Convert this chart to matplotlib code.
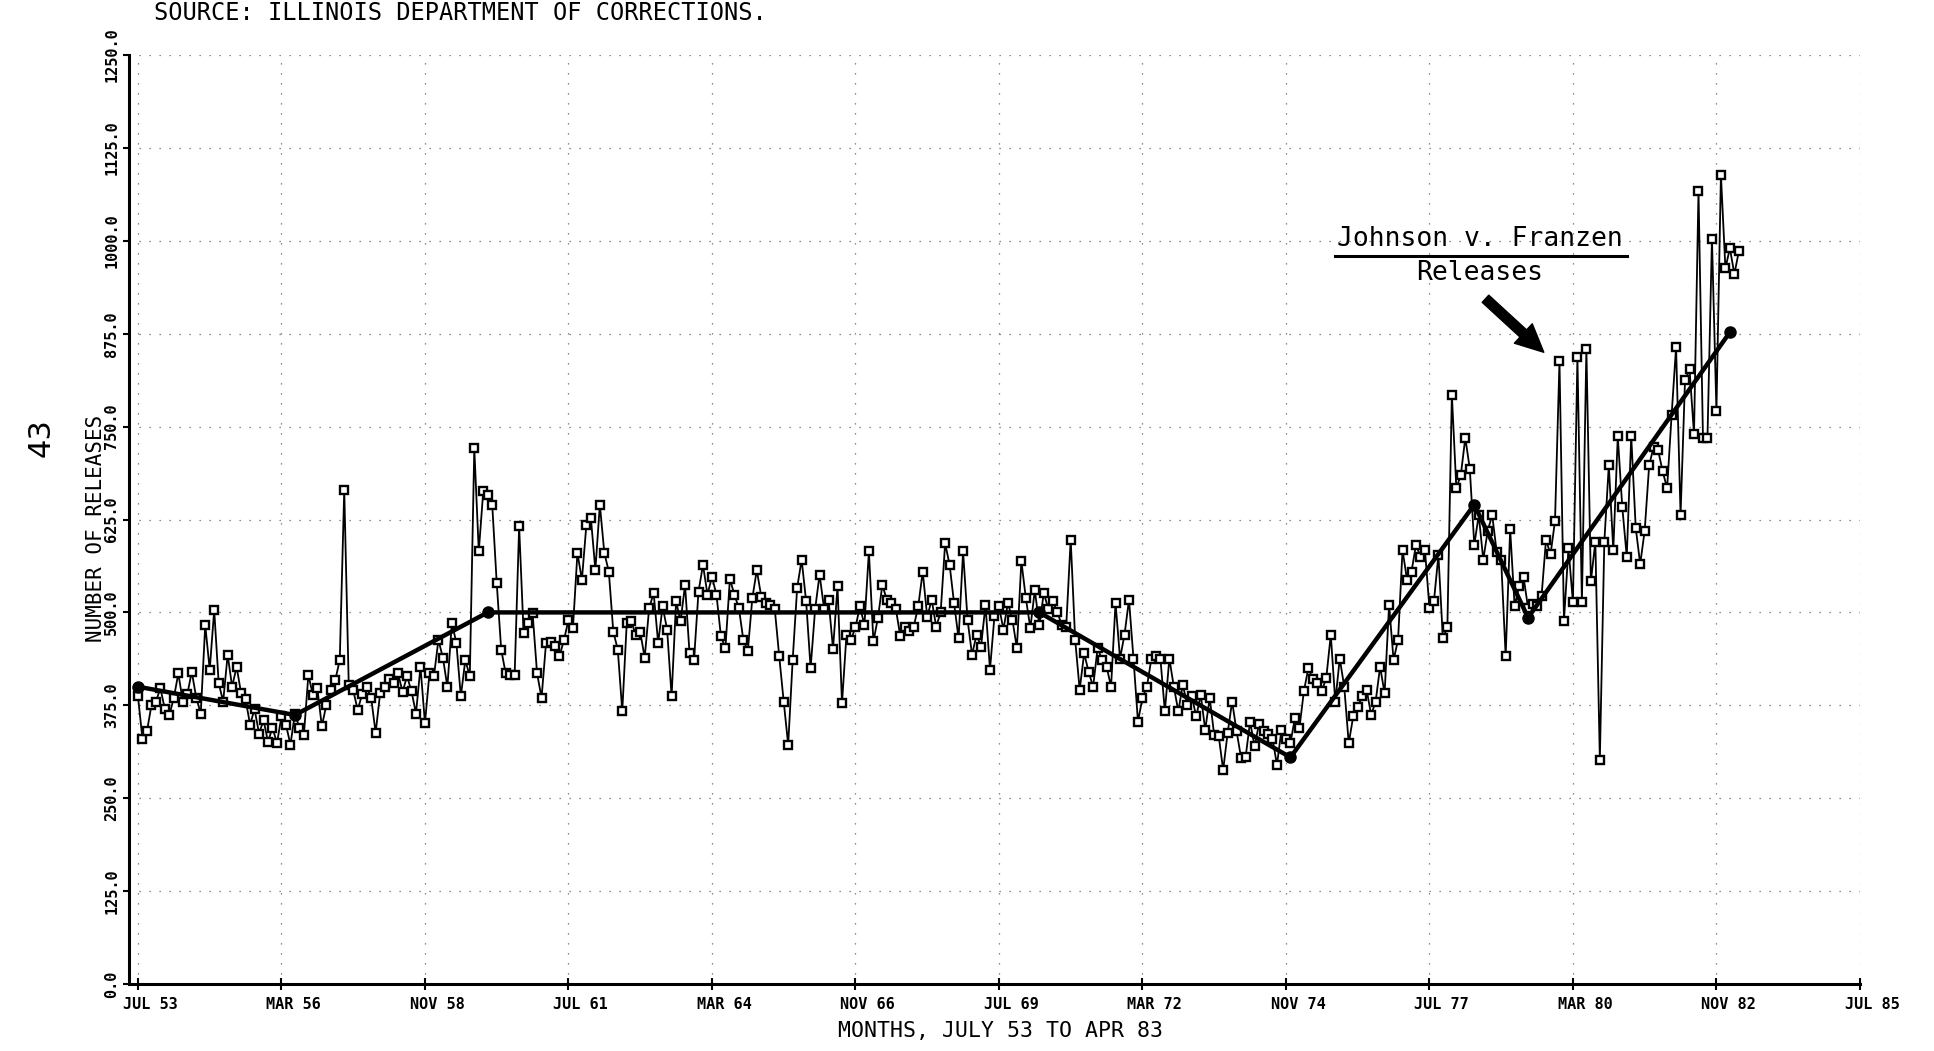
import matplotlib
matplotlib.use("Agg")
import matplotlib.pyplot as plt
import matplotlib.transforms as mtransforms
import numpy as np

# monthly releases, July 1953 .. April 1983
releases = [
    387, 330, 340, 375, 380, 398, 370, 362, 385, 418, 380, 390,
    420, 385, 364, 483, 423, 503, 405, 380, 443, 400, 427, 391,
    383, 349, 370, 337, 355, 326, 345, 324, 360, 349, 322, 364,
    345, 335, 416, 389, 398, 347, 375, 395, 409, 436, 665, 403,
    395, 369, 390, 400, 385, 338, 391, 400, 410, 405, 418, 393,
    414, 394, 364, 427, 351, 418, 414, 463, 439, 400, 486, 459,
    387, 436, 414, 721, 582, 663, 658, 645, 540, 450, 418, 416,
    416, 616, 472, 486, 499, 418, 385, 459, 460, 455, 441, 463,
    490, 479, 580, 544, 618, 627, 557, 645, 580, 555, 474, 450,
    367, 486, 488, 470, 474, 439, 506, 526, 459, 508, 477, 387,
    515, 488, 537, 445, 436, 528, 564, 524, 548, 524, 468, 452,
    545, 524, 506, 463, 448, 519, 557, 521, 512, 510, 505, 441,
    380, 322, 436, 533, 571, 515, 425, 504, 551, 505, 517, 451,
    535, 378, 470, 463, 480, 508, 483, 582, 461, 492, 537, 517,
    512, 505, 468, 481, 475, 481, 508, 555, 494, 517, 481, 500,
    593, 564, 512, 465, 582, 490, 443, 470, 454, 510, 423, 495,
    508, 477, 513, 490, 452, 569, 519, 479, 530, 483, 526, 505,
    515, 501, 483, 481, 598, 463, 396, 445, 420, 400, 452, 436,
    427, 400, 513, 438, 470, 517, 438, 353, 385, 400, 438, 441,
    438, 367, 438, 400, 367, 403, 375, 387, 360, 389, 342, 385,
    335, 334, 288, 338, 380, 340, 304, 305, 353, 320, 350, 340,
    337, 330, 295, 342, 330, 324, 358, 344, 394, 425, 410, 405,
    394, 412, 470, 380, 438, 400, 324, 360, 373, 387, 396, 362,
    380, 427, 391, 510, 436, 463, 584, 544, 555, 591, 575, 584,
    506, 515, 577, 465, 480, 793, 667, 685, 735, 693, 591, 631,
    571, 610, 631, 581, 570, 441, 612, 508, 536, 547, 506, 511,
    508, 522, 598, 578, 623, 838, 489, 586, 514, 843, 514, 855,
    542, 595, 302, 595, 698, 584, 737, 642, 575, 737, 614, 565,
    610, 698, 723, 718, 690, 667, 765, 857, 631, 813, 827, 740,
    1067, 734, 734, 1003, 771, 1089, 963, 990, 955, 986,
]

# piecewise trend line (month index from July 53, value)
trend_months = [0, 35, 78, 201, 257, 298, 310, 355]
trend_values = [400, 362, 500, 500, 305, 645, 493, 877]

tick_months = [0, 32, 64, 96, 128, 160, 192, 224, 256, 288, 320, 352, 384]
tick_labels = ["JUL 53", "MAR 56", "NOV 58", "JUL 61", "MAR 64", "NOV 66", "JUL 69",
               "MAR 72", "NOV 74", "JUL 77", "MAR 80", "NOV 82", "JUL 85"]
y_ticks = [0, 125, 250, 375, 500, 625, 750, 875, 1000, 1125, 1250]

mono = "DejaVu Sans Mono"

fig = plt.figure(figsize=(19.34, 10.51), dpi=100)
ax = fig.add_axes([0.0667, 0.0637, 0.895, 0.884])

months = np.arange(len(releases))
ax.plot(months, releases, color="black", lw=1.3, marker="s", ms=5.5, mfc="white",
        mec="black", mew=1.7, zorder=3)
ax.plot(trend_months, trend_values, color="black", lw=3.2, marker="o", ms=8, zorder=4)

ax.set_xlim(-2, 384)
ax.set_ylim(0, 1250)
ax.set_axisbelow(True)
ax.grid(True, color="0.4", lw=0.9, linestyle=(0, (1, 7)))

for s in ["top", "right"]:
    ax.spines[s].set_visible(False)
for s in ["left", "bottom"]:
    ax.spines[s].set_linewidth(2.2)

ax.set_xticks(tick_months)
ax.set_xticklabels(tick_labels, fontfamily=mono, fontsize=11, fontweight="bold")
ax.tick_params(axis="x", direction="inout", length=9, width=1.5, pad=5)
shift = mtransforms.ScaledTranslation(0.12, 0, fig.dpi_scale_trans)
for lab in ax.get_xticklabels():
    lab.set_transform(lab.get_transform() + shift)

ax.set_yticks(y_ticks)
ax.set_yticklabels([f"{v:.1f}" for v in y_ticks], rotation=90, va="center",
                   fontfamily=mono, fontsize=11, fontweight="bold")
ax.tick_params(axis="y", direction="out", length=4, width=1.5, pad=3)

ax.set_ylabel("NUMBER OF RELEASES", fontfamily=mono, fontsize=15)
ax.yaxis.set_label_coords(-0.013, 0.49)

fig.text(1001 / 1934, 1 - 1031 / 1051, "MONTHS, JULY 53 TO APR 83", ha="center",
         va="center", fontfamily=mono, fontsize=15.5)
fig.text(154 / 1934, 1 - 1 / 1051, "SOURCE: ILLINOIS DEPARTMENT OF CORRECTIONS.",
         ha="left", va="top", fontfamily=mono, fontsize=17)
fig.text(41 / 1934, 1 - 438 / 1051, "43", rotation=90, ha="center", va="center",
         fontsize=22)

# Johnson v. Franzen annotation
ax.text(299.3, 1003, "Johnson v. Franzen", ha="center", va="center",
        fontfamily=mono, fontsize=19)
ax.plot([267, 332], [979, 979], color="black", lw=2.2, clip_on=False)
ax.text(299.3, 956, "Releases", ha="center", va="center", fontfamily=mono, fontsize=19)
ax.annotate("", xy=(313.5, 850), xytext=(300.5, 922),
            arrowprops=dict(facecolor="black", edgecolor="black", width=7,
                            headwidth=19, headlength=20, shrink=0))

fig.savefig("out.png", dpi=100)
